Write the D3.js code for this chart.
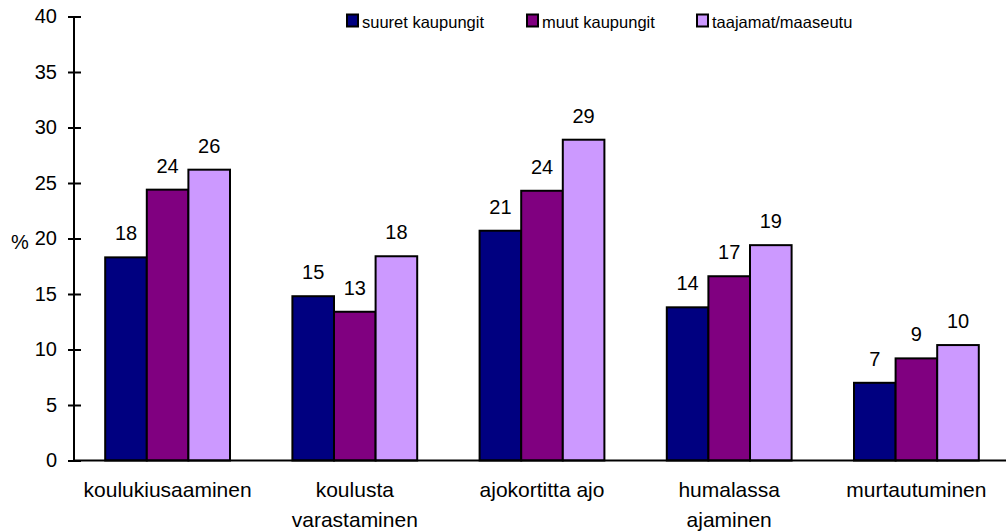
<!DOCTYPE html>
<html>
<head>
<meta charset="utf-8">
<script src="https://cdn.jsdelivr.net/npm/d3@7"></script>
<style>
  body { margin: 0; background: #fff; }
  svg { display: block; font-family: "Liberation Sans", Arial, sans-serif; }
</style>
</head>
<body>
<svg id="chart" width="1006" height="531"></svg>
<script>
// luokat ja sarjat
var categories = ["koulukiusaaminen", "koulusta varastaminen", "ajokortitta ajo", "humalassa ajaminen", "murtautuminen"];
var categoryLines = [["koulukiusaaminen"], ["koulusta", "varastaminen"], ["ajokortitta ajo"], ["humalassa", "ajaminen"], ["murtautuminen"]];
var seriesNames = ["suuret kaupungit", "muut kaupungit", "taajamat/maaseutu"];
var suuret = [18.3, 14.8, 20.7, 13.8, 7.0];
var muut = [24.4, 13.4, 24.3, 16.6, 9.2];
var taajamat = [26.2, 18.4, 28.9, 19.4, 10.4];
var yTicks = [0, 5, 10, 15, 20, 25, 30, 35, 40];
var colors = ["#000080", "#800080", "#CC99FF"];

var seriesValues = [suuret, muut, taajamat];

var svg = d3.select("#chart");

var plotLeft = 74, plotRight = 1010, plotTop = 16.5, plotBottom = 460.5;

var x0 = d3.scaleBand()
    .domain(categories)
    .range([plotLeft, plotRight])
    .paddingInner(1 / 3)
    .paddingOuter(1 / 6);

var x1 = d3.scaleBand()
    .domain(seriesNames)
    .range([0, x0.bandwidth()]);

var y = d3.scaleLinear()
    .domain([0, 40])
    .range([plotBottom, plotTop]);

// palkit
seriesNames.forEach(function(name, si) {
    var g = svg.append("g");
    g.selectAll("rect")
        .data(seriesValues[si])
        .enter()
        .append("rect")
        .attr("x", function(d, i) { return x0(categories[i]) + x1(name); })
        .attr("y", function(d) { return y(d); })
        .attr("width", x1.bandwidth())
        .attr("height", function(d) { return y(0) - y(d); })
        .attr("fill", colors[si])
        .attr("stroke", "#000")
        .attr("stroke-width", 2);

    g.selectAll("text")
        .data(seriesValues[si])
        .enter()
        .append("text")
        .attr("x", function(d, i) { return x0(categories[i]) + x1(name) + x1.bandwidth() / 2; })
        .attr("y", function(d) { return y(d) - 17; })
        .attr("text-anchor", "middle")
        .attr("font-size", 20)
        .attr("fill", "#000")
        .text(function(d) { return Math.round(d); });
});

// y-akseli
var yAxis = svg.append("g")
    .attr("transform", "translate(" + plotLeft + ",0)")
    .call(d3.axisLeft(y).tickValues(yTicks).tickSize(6).tickPadding(11));
yAxis.select(".domain").attr("d", "M0," + plotTop + "V" + plotBottom).attr("stroke-width", 2);
yAxis.selectAll(".tick line").attr("x1", 7).attr("stroke-width", 2);
yAxis.selectAll(".tick text")
    .attr("font-size", 20)
    .attr("font-family", "Liberation Sans, Arial, sans-serif")
    .attr("fill", "#000");

// x-akseli
svg.append("line")
    .attr("x1", plotLeft)
    .attr("x2", 1006)
    .attr("y1", y(0))
    .attr("y2", y(0))
    .attr("stroke", "#000")
    .attr("stroke-width", 2);

// luokkien nimet
categoryLines.forEach(function(lines, i) {
    var cx = x0(categories[i]) + x0.bandwidth() / 2;
    var t = svg.append("text")
        .attr("x", cx)
        .attr("y", 497)
        .attr("text-anchor", "middle")
        .attr("font-size", 21)
        .attr("fill", "#000");
    lines.forEach(function(line, li) {
        t.append("tspan")
            .attr("x", cx)
            .attr("dy", li === 0 ? 0 : 30)
            .text(line);
    });
});

// %-merkki
svg.append("text")
    .attr("x", 20)
    .attr("y", 249)
    .attr("text-anchor", "middle")
    .attr("font-size", 20)
    .text("%");

// selite
var legendX = [347, 527, 697];
seriesNames.forEach(function(name, i) {
    svg.append("rect")
        .attr("x", legendX[i])
        .attr("y", 14.5)
        .attr("width", 11)
        .attr("height", 12)
        .attr("fill", colors[i])
        .attr("stroke", "#000")
        .attr("stroke-width", 2);
    svg.append("text")
        .attr("x", legendX[i] + 15)
        .attr("y", 28)
        .attr("font-size", 16.5)
        .attr("fill", "#000")
        .text(name);
});
</script>
</body>
</html>
